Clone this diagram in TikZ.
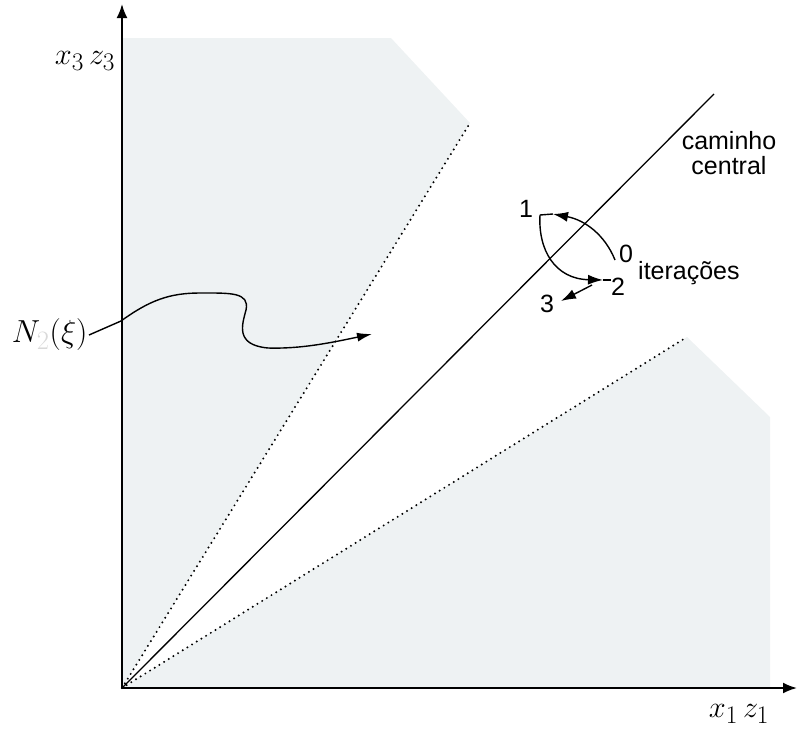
\documentclass[tikz,border=0pt]{standalone}
\usepackage{fontspec}
\setsansfont{Liberation Sans}
\usetikzlibrary{arrows.meta}
\definecolor{regiongrey}{RGB}{238,242,243}
\tikzset{
  axis/.style={line width=2pt,-{Latex[length=14pt,width=11pt]}},
  dotline/.style={line width=2.2pt,dash pattern=on 0pt off 5.5pt,line cap=round},
  itarrow/.style={line width=1.4pt,-{Latex[length=15pt,width=10pt]}},
  sanslabel/.style={font=\sffamily\fontsize{25}{30}\selectfont,inner sep=1pt},
  mathlabel/.style={font=\fontsize{24.88}{30}\selectfont,inner sep=1pt,scale=1.22}
}
\begin{document}
\begin{tikzpicture}[x=1pt,y=-1pt]
\useasboundingbox (0,0) rectangle (797,734);
% regions
\fill[regiongrey] (122,688) -- (122,38) -- (391,38) -- (470,123) -- cycle;
\fill[regiongrey] (122,688) -- (687,337) -- (770,417) -- (770,688) -- cycle;
% coordinates
\coordinate (O) at (122,688);
\coordinate (ytop) at (122,4);
\coordinate (xend) at (797,688);
\coordinate (d1) at (470,123);
\coordinate (d2) at (687,337);
\coordinate (c) at (714,94);
% dotted boundaries
\draw[dotline] (O) -- (d1);
\draw[dotline] (O) -- (d2);
% central path
\draw[line width=1.3pt] (O) -- (c);
% axes
\draw[axis] (O) -- (ytop);
\draw[axis] (O) -- (xend);
% labels
\node[mathlabel] (l3) at (85,61) {$x_3\,z_3$};
\node[mathlabel] (l1) at (739,714) {$x_1\,z_1$};
\node[sanslabel,align=center] (cam) at (729,153) {caminho\\[-5pt]central};
\node[mathlabel,scale=1.05,anchor=east] (N) at (89,335) {$N_{\textcolor{black!15}{2}}(\xi)$};
% N curve
\coordinate (ntip) at (372,334);
\draw[line width=1.4pt,-{Latex[length=15pt,width=9pt]}] (N.east) -- (121,321)
  .. controls (150,300) and (170,293) .. (200,293)
  .. controls (230,293) and (250,292) .. (246,310)
  .. controls (242,325) and (235,345) .. (268,348)
  .. controls (300,349) and (330,343) .. (ntip);
% iterations
\node[sanslabel] (n0) at (626,254) {0};
\node[sanslabel] (n1) at (526,209) {1};
\node[sanslabel] (n2) at (618,287) {2};
\node[sanslabel] (n3) at (547,304) {3};
\node[sanslabel,anchor=west] (it) at (637,273) {iterações};
\coordinate (p0) at (615,260);
\coordinate (p1) at (540,215);
\coordinate (p2) at (611,280);
\coordinate (a01) at (553,214);
\coordinate (a12) at (603,280);
\coordinate (q2) at (592,285);
\coordinate (p3) at (561,301);
\draw[line width=1.4pt] (a01) -- (p1);
\draw[line width=1.4pt] (a12) -- (p2);
\draw[itarrow] (p0) .. controls (605,235) and (585,220) .. (a01);
\draw[itarrow] (p1) .. controls (538,250) and (555,279) .. (a12);
\draw[itarrow] (q2) -- (p3);
\end{tikzpicture}
\end{document}
